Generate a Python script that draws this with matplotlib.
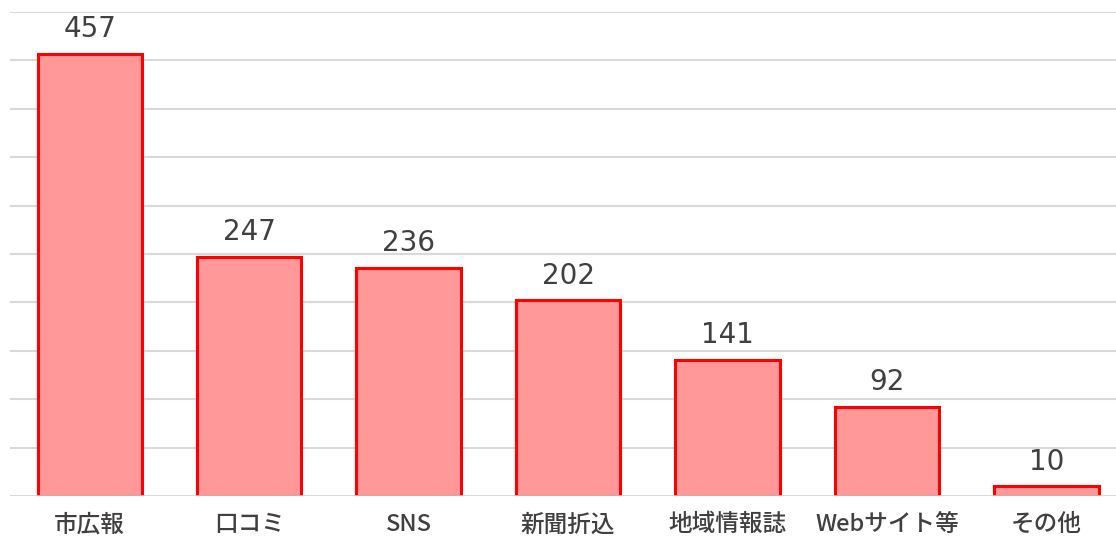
import matplotlib
matplotlib.use("Agg")
import matplotlib.pyplot as plt

plt.rcParams['font.family'] = ['Noto Sans CJK JP', 'DejaVu Sans']

categories = ["市広報", "口コミ", "SNS", "新聞折込", "地域情報誌", "Webサイト等", "その他"]
values = [457, 247, 236, 202, 141, 92, 10]

fig = plt.figure(figsize=(11.16, 5.37), dpi=100)
ax = fig.add_axes([10/1116, 1 - 496/537, 1 - 10/1116, (496 - 12)/537])

x = list(range(len(categories)))
bars = ax.bar(x, values, width=0.655, color="#FF9999", edgecolor="#FF0000",
              linewidth=2.2, zorder=2)

ax.set_ylim(0, 500)
ax.set_xlim(-0.5, 6.436)
ax.set_yticks(range(0, 501, 50))
ax.yaxis.grid(True, color="#D9D9D9", linewidth=1.5, zorder=0)
ax.set_axisbelow(True)
for s in ax.spines.values():
    s.set_visible(False)
ax.tick_params(axis='y', left=False, labelleft=False)
ax.tick_params(axis='x', bottom=False, pad=9)
ax.set_xticks(x)
ax.set_xticklabels(categories, fontsize=17, color="#404040", fontweight="medium")
ax.axhline(0, color="#D9D9D9", linewidth=1.8, zorder=3)

for xi, v in zip(x, values):
    ax.annotate(str(v), (xi, v), xytext=(0, 12), textcoords="offset points",
                ha="center", va="baseline", fontsize=20, color="#404040",
                family=["DejaVu Sans"], fontweight="medium")

fig.savefig("out.png", dpi=100)
